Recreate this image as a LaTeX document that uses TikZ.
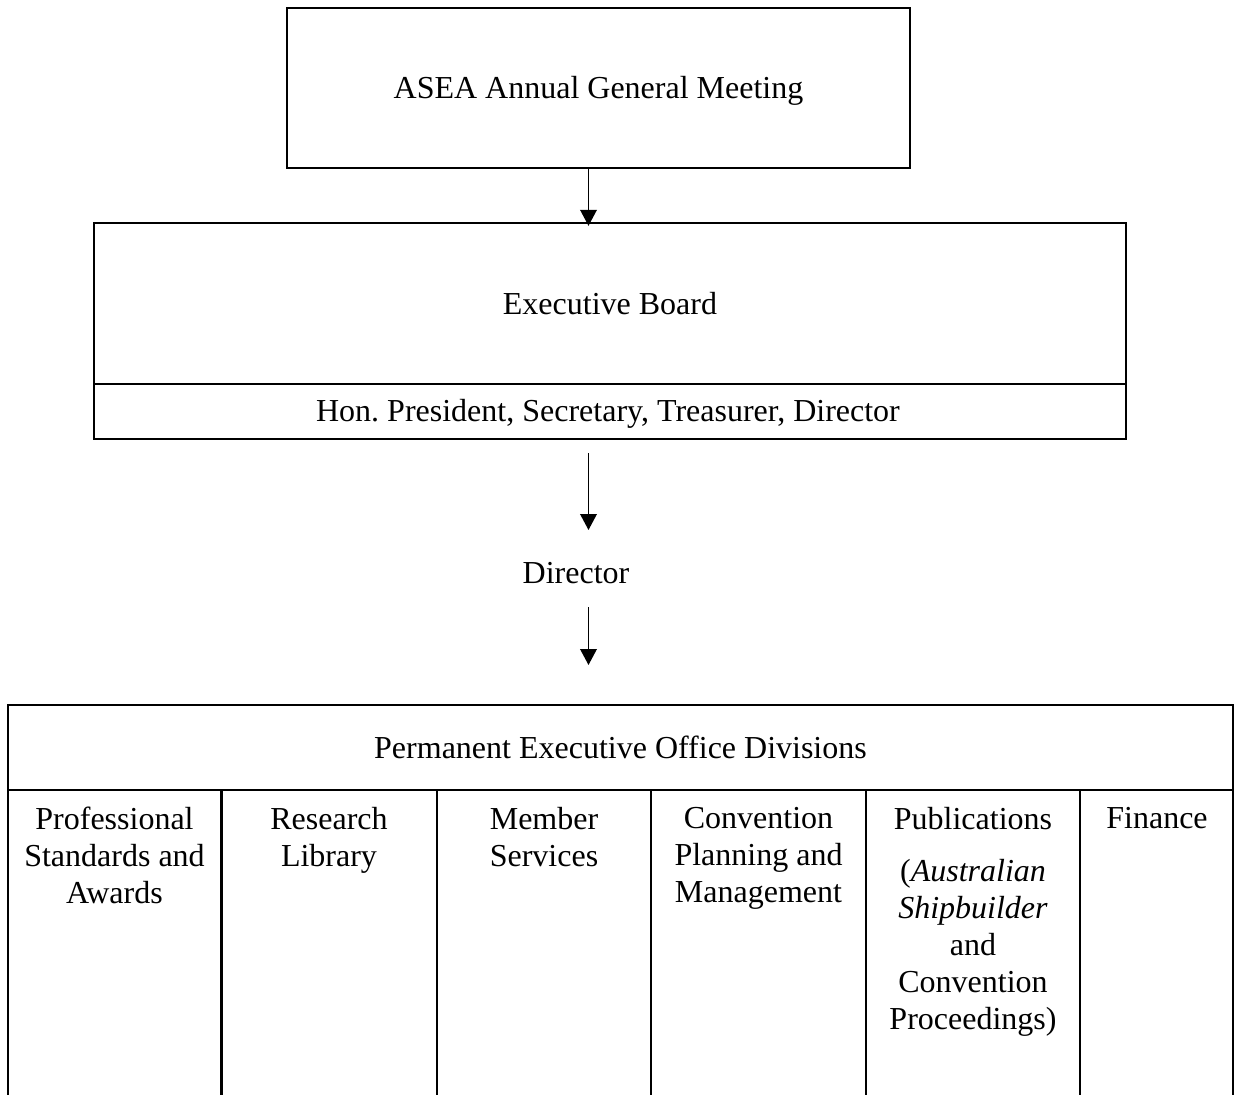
\documentclass[tikz,border=0pt]{standalone}
\usepackage{fontspec}
\setmainfont{Liberation Serif}
\usetikzlibrary{arrows.meta,fit}
\frenchspacing
\begin{document}
\begin{tikzpicture}[x=0.75pt,y=-0.75pt,
  frame/.style={draw,line width=1.8pt,inner sep=0pt},
  rule/.style={line width=1.8pt,line cap=butt},
  txt/.style={font=\fontsize{24}{27.75}\selectfont,inner sep=0pt,align=center},
  arr/.style={line width=1.1pt,-{Triangle[length=12pt,width=12.5pt]}}]
\useasboundingbox (0,0) rectangle (1235,1095);

% boxes
\node[frame,fit={(287,8) (910,168)}] (agm) {};
\node[frame,fit={(94,223) (1126,384)}] (board) {};
\node[frame,fit={(94,384) (1126,439)}] (officers) {};
\node[frame,fit={(8,705) (1233,790)}] (office) {};

% texts
\node[txt,anchor=base] (agmtxt) at (598.5,98.5) {ASEA Annual General Meeting};
\node[txt,anchor=base] (boardtxt) at (610,314.5) {Executive Board};
\node[txt,anchor=base] (officerstxt) at (608,421.5) {Hon. President, Secretary, Treasurer, Director};
\node[txt,anchor=base] (director) at (576,583) {Director};
\node[txt,anchor=base] (officetxt) at (620.5,758.5) {Permanent Executive Office Divisions};

% division columns
\foreach \xx in {8,221.5,437,651,866,1080,1233}
  \draw[rule] (\xx,790) -- (\xx,1095);
\node[txt,anchor=north] (c1) at (114.5,807) {Professional\\Standards and\\Awards};
\node[txt,anchor=north] (c2) at (329,807) {Research\\Library};
\node[txt,anchor=north] (c3) at (544,807) {Member\\Services};
\node[txt,anchor=north] (c4) at (758.5,807) {Convention\\Planning and\\Management};
\node[txt,anchor=north] (c5) at (973,807) {Publications\\[11pt](\textit{Australian}\\\textit{Shipbuilder}\\and\\Convention\\Proceedings)};
\node[txt,anchor=north] (c6) at (1157,807) {Finance};

% connectors
\coordinate (ax) at (588.5,0);
\coordinate (a2s) at (588.5,453);
\coordinate (a2e) at (588.5,530);
\coordinate (a3s) at (588.5,607);
\coordinate (a3e) at (588.5,665);
\draw[arr,shorten >=-3pt] (ax |- agm.south) -- (ax |- board.north);
\draw[arr] (a2s) -- (a2e);
\draw[arr] (a3s) -- (a3e);
\end{tikzpicture}
\end{document}
